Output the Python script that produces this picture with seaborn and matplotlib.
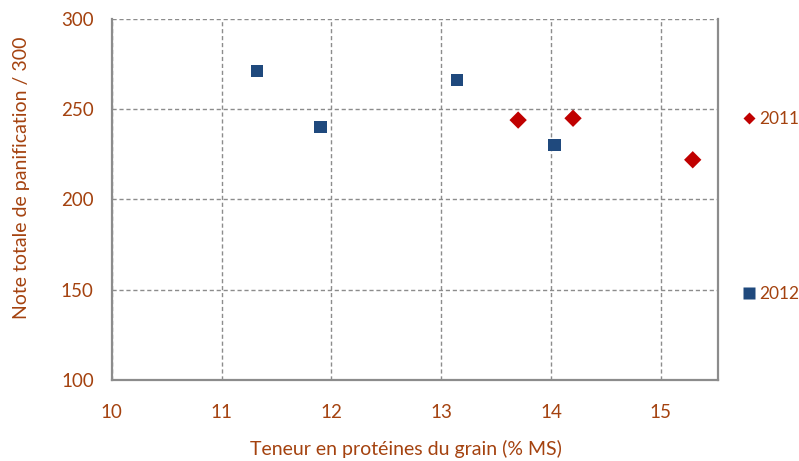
import pandas as pd
import matplotlib.pyplot as plt
import seaborn as sns

# données
prot_2011 = [13.70, 14.20, 15.29]
note_2011 = [244, 245, 222]
prot_2012 = [11.32, 11.90, 13.14, 14.03]
note_2012 = [271, 240, 266, 230]

df = pd.DataFrame({
    'proteines': prot_2011 + prot_2012,
    'note': note_2011 + note_2012,
    'annee': ['2011'] * len(prot_2011) + ['2012'] * len(prot_2012),
})

brun = '#A4420F'
gris = '#8C8C8C'

sns.set_style('white')
plt.rcParams['font.family'] = ['Lato', 'DejaVu Sans']

fig = plt.figure(figsize=(7.99, 4.61), dpi=100)
ax = fig.add_axes([0.140, 0.1757, 0.7586, 0.7831])

sns.scatterplot(data=df, x='proteines', y='note', hue='annee', style='annee',
                palette={'2011': '#C00000', '2012': '#1F497D'},
                markers={'2011': 'D', '2012': 's'},
                s=78, edgecolor='none', ax=ax, zorder=3)

ax.set_xlim(10, 15.52)
ax.set_ylim(100, 300)
ax.set_xticks([10, 11, 12, 13, 14, 15])
ax.set_yticks([100, 150, 200, 250, 300])

ax.grid(True, linestyle=(0, (3, 2)), color=gris, linewidth=1)
for s in ['left', 'bottom', 'right']:
    ax.spines[s].set_color(gris)
    ax.spines[s].set_linewidth(1.6)
ax.spines['top'].set_visible(False)

ax.tick_params(axis='both', colors=gris, labelcolor=brun, labelsize=13.5,
               length=5, width=1.2, direction='out')
ax.tick_params(axis='x', pad=12)
ax.tick_params(axis='y', pad=8)

ax.set_xlabel('Teneur en protéines du grain (% MS)', color=brun, fontsize=14)
ax.set_ylabel('Note totale de panification / 300', color=brun, fontsize=14)
ax.xaxis.set_label_coords(0.485, -0.165)
ax.yaxis.set_label_coords(-0.135, 0.56)

leg = ax.legend(loc='upper left', bbox_to_anchor=(1.025, 0.765), frameon=False,
                fontsize=12.5, labelspacing=9.15, handletextpad=0.1,
                borderaxespad=0, handlelength=1.0)
for t in leg.get_texts():
    t.set_color(brun)
leg.legend_handles[0].set_markersize(6)
leg.legend_handles[1].set_markersize(8.5)

fig.savefig('out.png', dpi=100)
